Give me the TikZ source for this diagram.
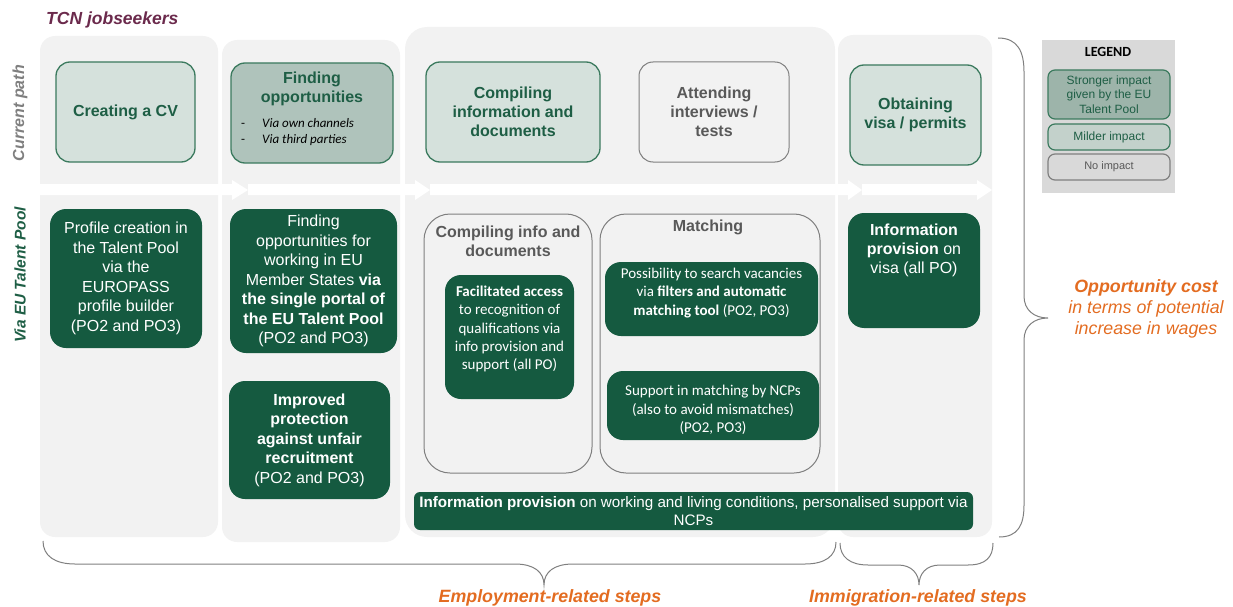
\documentclass[tikz,border=0pt]{standalone}
\usepackage{fontspec}
\setmainfont{Liberation Sans}
\newfontfamily\calfont{Carlito}
\definecolor{panel}{HTML}{F2F2F2}
\definecolor{dkgreen}{HTML}{155A40}
\definecolor{midgreen}{HTML}{3B7A5E}
\definecolor{txtgreen}{HTML}{1E5E45}
\definecolor{lightfill}{HTML}{D5E1DC}
\definecolor{strongfill}{HTML}{AFC3BB}
\definecolor{greyline}{HTML}{7F7F7F}
\definecolor{greytext}{HTML}{595959}
\definecolor{purp}{HTML}{6B2A4C}
\definecolor{orng}{HTML}{E36C21}
\definecolor{legbg}{HTML}{D9D9D9}
\definecolor{legstrong}{HTML}{9DB4AA}
\definecolor{legmild}{HTML}{C3D1CB}
\newcommand\fsz[2]{\fontsize{#1}{#2}\selectfont}
\tikzset{
  panelbox/.style={fill=panel, rounded corners=15pt, inner sep=0pt, outer sep=0pt},
  topbox/.style={draw=midgreen, line width=1.3pt, fill=lightfill, rounded corners=14pt,
     text=txtgreen, font=\bfseries\fsz{16}{19}, align=center, inner sep=0pt},
  greybox/.style={draw=greyline, line width=1pt, fill=panel, rounded corners=14pt,
     text=greytext, font=\bfseries\fsz{16}{19}, align=center, inner sep=0pt},
  darkbox/.style={fill=dkgreen, rounded corners=16pt, text=white, align=center, inner sep=0pt},
  outlinebox/.style={draw=greyline, line width=1pt, rounded corners=26pt, inner sep=0pt},
  whitetext/.style={text=white, align=center, inner sep=0pt},
  bracepath/.style={draw=greyline, line width=1pt},
  orangelabel/.style={text=orng, font=\bfseries\itshape\fsz{17.8}{21}, inner sep=0pt},
  legbox/.style={draw=midgreen, line width=1.2pt, rounded corners=7pt, text=txtgreen,
     font=\fsz{12}{14.5}, align=center, inner sep=0pt},
}
\begin{document}
\begin{tikzpicture}[x=1pt,y=-1pt]
\useasboundingbox (0,0) rectangle (1233,607);
% title
\node[anchor=west, text=purp, font=\bfseries\itshape\fsz{17.5}{21}, inner sep=0pt] (title) at (46,20) {TCN jobseekers};
% panels
\node[panelbox, minimum width=178, minimum height=501] (p1) at (129,286.5) {};
\node[panelbox, minimum width=178, minimum height=502] (p2) at (311,291) {};
\node[panelbox, minimum width=430, minimum height=510, rounded corners=22pt] (p3) at (620,282) {};
\node[panelbox, minimum width=154, minimum height=502] (p4) at (915,286) {};
% white arrow band
\fill[white] (40,184) -- (232,184) -- (232,180) -- (248,190) -- (232,200) -- (232,195) -- (40,195) -- cycle;
\fill[white] (248,184) -- (415,184) -- (415,180) -- (430,190) -- (415,200) -- (415,195) -- (248,195) -- cycle;
\fill[white] (430,184) -- (848,184) -- (848,180) -- (862,190) -- (848,200) -- (848,195) -- (430,195) -- cycle;
\fill[white] (862,184) -- (977,184) -- (977,180) -- (992,190) -- (977,200) -- (977,195) -- (862,195) -- cycle;
% row labels
\node[rotate=90, text=greyline, font=\bfseries\itshape\fsz{16}{18}, inner sep=0pt] (rowcur) at (20,113) {Current path};
\node[rotate=90, text=txtgreen, font=\bfseries\itshape\fsz{15.5}{18}, inner sep=0pt] (roweu) at (20,275) {Via EU Talent Pool};
% top row
\node[topbox, minimum width=139, minimum height=100] (cv) at (125.5,112) {Creating a CV};
\node[topbox, fill=strongfill, minimum width=162, minimum height=100] (find) at (312,113) {};
\node[text=txtgreen, font=\bfseries\fsz{16}{19}, align=center, inner sep=0pt] (findt) at (312,88.5) {Finding\\opportunities};
\node[anchor=west, inner sep=0pt, font=\calfont\fsz{13}{16}] (findb) at (241,132)
  {\begin{tabular}{@{}l@{\hspace{17pt}}l@{}}-&\textit{Via own channels}\\-&\textit{Via third parties}\end{tabular}};
\node[topbox, minimum width=174, minimum height=100] (comp) at (513,112) {Compiling\\information and\\documents};
\node[greybox, minimum width=150, minimum height=100] (att) at (714,112) {Attending\\interviews /\\tests};
\node[topbox, minimum width=131, minimum height=100] (visa) at (915.5,115) {Obtaining\\visa / permits};
% bottom row column 1-2
\node[darkbox, minimum width=152, minimum height=139, font=\fsz{16}{19.5}] (prof) at (126,278.5)
  {Profile creation in\\the Talent Pool\\via the\\EUROPASS\\profile builder\\(PO2 and PO3)};
\node[darkbox, minimum width=167, minimum height=144, font=\fsz{16}{19.5}] (portal) at (313.5,281)
  {Finding\\opportunities for\\working in EU\\Member States \textbf{via}\\\textbf{the single portal of}\\\textbf{the EU Talent Pool}\\(PO2 and PO3)};
\node[darkbox, minimum width=161, minimum height=118, font=\fsz{16}{19.5}] (prot) at (309.5,440)
  {\textbf{Improved}\\\textbf{protection}\\\textbf{against unfair}\\\textbf{recruitment}\\(PO2 and PO3)};
% column 3
\node[outlinebox, minimum width=168, minimum height=259] (compo) at (508,343.5) {};
\node[text=greytext, font=\bfseries\fsz{16}{19}, align=center, inner sep=0pt] (compot) at (508,241) {Compiling info and\\documents};
\node[darkbox, minimum width=129, minimum height=124] (facil) at (509.5,337) {};
\node[whitetext, font=\calfont\fsz{15}{18.3}] (facilt) at (509.5,329)
  {\textbf{Facilitated access}\\to recognition of\\qualifications via\\info provision and\\support (all PO)};
\node[outlinebox, minimum width=220, minimum height=259] (match) at (710,343.5) {};
\node[text=greytext, font=\bfseries\fsz{16}{19}, inner sep=0pt] (matcht) at (708,227) {Matching};
\node[darkbox, minimum width=213, minimum height=74] (poss) at (711.5,299) {};
\node[whitetext, font=\calfont\fsz{15}{18.3}] (posst) at (711.5,293)
  {Possibility to search vacancies\\via \textbf{filters and automatic}\\\textbf{matching tool} (PO2, PO3)};
\node[darkbox, minimum width=212, minimum height=69] (supp) at (713,405.5) {};
\node[whitetext, font=\calfont\fsz{15}{18.3}] (suppt) at (713,410)
  {Support in matching by NCPs\\(also to avoid mismatches)\\(PO2, PO3)};
\node[darkbox, rounded corners=6pt, minimum width=559, minimum height=38, font=\fsz{15.2}{17.5}] (infobar) at (693.5,511)
  {\textbf{Information provision} on working and living conditions, personalised support via\\NCPs};
% column 4
\node[darkbox, minimum width=132, minimum height=115] (infov) at (914,270.5) {};
\node[whitetext, font=\fsz{16}{19}] (infovt) at (914,250) {\textbf{Information}\\\textbf{provision} on\\visa (all PO)};
% right brace and label
\draw[bracepath] (998,38) .. controls (1018,38) and (1024,52) .. (1024,72) -- (1024,296)
  .. controls (1024,310) and (1034,318) .. (1048,318) .. controls (1034,318) and (1024,326) .. (1024,340)
  -- (1024,505) .. controls (1024,525) and (1018,537) .. (999,537);
\node[text=orng, font=\itshape\fsz{17.8}{21}, align=center, inner sep=0pt] (opp) at (1146,309)
  {\textbf{Opportunity cost}\\in terms of potential\\increase in wages};
% legend
\node[fill=legbg, minimum width=133, minimum height=153, inner sep=0pt] (leg) at (1108.5,116.5) {};
\node[font=\calfont\bfseries\fsz{14}{16}, inner sep=0pt] (legt) at (1108,52) {LEGEND};
\node[legbox, fill=legstrong, minimum width=122, minimum height=49] (legs) at (1109,94.5) {Stronger impact\\given by the EU\\Talent Pool};
\node[legbox, fill=legmild, minimum width=122, minimum height=26] (legm) at (1109,137) {Milder impact};
\node[legbox, draw=greyline, fill=legbg, text=greytext, font=\fsz{11}{13}, minimum width=122, minimum height=26] (legn) at (1109,167) {No impact};
% bottom braces
\draw[bracepath] (43,541) .. controls (43,556) and (55,564) .. (75,564) -- (515,564)
  .. controls (534,564) and (544,572) .. (544,585) .. controls (544,572) and (554,564) .. (573,564)
  -- (805,564) .. controls (825,564) and (836,556) .. (836,542);
\draw[bracepath] (840,543) .. controls (840,557) and (850,565) .. (868,565) -- (898,565)
  .. controls (912,565) and (919,574) .. (919,585) .. controls (919,574) and (926,565) .. (940,565)
  -- (968,565) .. controls (986,565) and (993,557) .. (993,543);
\node[orangelabel] (emp) at (550,598) {Employment-related steps};
\node[orangelabel] (imm) at (918,598) {Immigration-related steps};
\end{tikzpicture}
\end{document}
